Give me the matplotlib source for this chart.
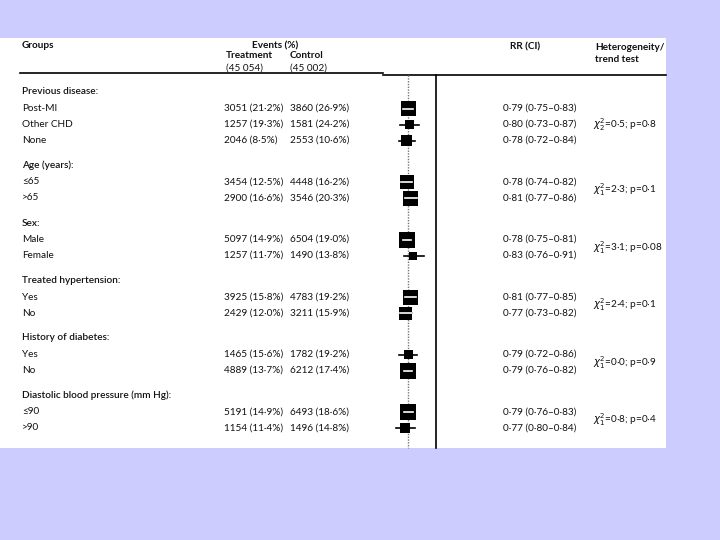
import numpy as np
import matplotlib.pyplot as plt
from matplotlib.patches import Rectangle

plt.rcParams['font.family'] = ['Lato', 'DejaVu Sans']

# subgroup table
groups = ["Previous disease:", "Age (years):", "Sex:", "Treated hypertension:",
          "History of diabetes:", "Diastolic blood pressure (mm Hg):"]
subgroups = [["Post-MI", "Other CHD", "None"], ["≤65", ">65"], ["Male", "Female"],
             ["Yes", "No"], ["Yes", "No"], ["≤90", ">90"]]

treat_n = [3051, 1257, 2046, 3454, 2900, 5097, 1257, 3925, 2429, 1465, 4889, 5191, 1154]
treat_pct = [21.2, 19.3, 8.5, 12.5, 16.6, 14.9, 11.7, 15.8, 12.0, 15.6, 13.7, 14.9, 11.4]
ctrl_n = [3860, 1581, 2553, 4448, 3546, 6504, 1490, 4783, 3211, 1782, 6212, 6493, 1496]
ctrl_pct = [26.9, 24.2, 10.6, 16.2, 20.3, 19.0, 13.8, 19.2, 15.9, 19.2, 17.4, 18.6, 14.8]

# relative risk and CI (as drawn)
rr = [0.79, 0.80, 0.78, 0.78, 0.81, 0.78, 0.83, 0.81, 0.77, 0.79, 0.79, 0.79, 0.77]
ci_lo = [0.75, 0.73, 0.72, 0.74, 0.77, 0.75, 0.76, 0.77, 0.73, 0.72, 0.76, 0.76, 0.70]
ci_hi = [0.83, 0.87, 0.84, 0.82, 0.86, 0.81, 0.91, 0.85, 0.82, 0.86, 0.82, 0.83, 0.84]
weight = [15, 9, 11, 14, 15, 16, 8, 15, 13, 9, 16, 16, 10]  # box side
rr_text = ["0·79 (0·75–0·83)", "0·80 (0·73–0·87)", "0·78 (0·72–0·84)",
           "0·78 (0·74–0·82)", "0·81 (0·77–0·86)",
           "0·78 (0·75–0·81)", "0·83 (0·76–0·91)",
           "0·81 (0·77–0·85)", "0·77 (0·73–0·82)",
           "0·79 (0·72–0·86)", "0·79 (0·76–0·82)",
           "0·79 (0·76–0·83)", "0·77 (0·80–0·84)"]
overall_rr = 0.79

het_df = [2, 1, 1, 1, 1, 1]
het_chi = ["0·5", "2·3", "3·1", "2·4", "0·0", "0·8"]
het_p = ["0·8", "0·1", "0·08", "0·1", "0·9", "0·4"]


def fmt(n, p):
    return f"{n} ({p:.1f}%)".replace('.', '·')


# row layout (pixels)
y0, h_step, r_step, g_step = 92, 16.5, 16, 25
header_y = []
row_y = []
y = y0
for subs in subgroups:
    header_y.append(y)
    y += h_step
    for k in range(len(subs)):
        row_y.append(y)
        if k < len(subs) - 1:
            y += r_step
    y += g_step

fig = plt.figure(figsize=(7.2, 5.4), dpi=100, facecolor='#ccccff')
ax = fig.add_axes([0, 0, 1, 1])
ax.set_xlim(0, 720)
ax.set_ylim(540, 0)
ax.axis('off')
ax.add_patch(Rectangle((0, 38), 666, 410, facecolor='white', edgecolor='none'))

fs = 7.2
tc = '#111111'
# headers
ax.text(22, 46, "Groups", fontsize=fs, fontweight='bold', color=tc, va='center')
ax.text(275, 46, "Events (%)", fontsize=fs, fontweight='bold', color=tc, va='center', ha='center')
ax.text(226, 56, "Treatment", fontsize=fs, fontweight='bold', color=tc, va='center')
ax.text(290, 56, "Control", fontsize=fs, fontweight='bold', color=tc, va='center')
ax.text(226, 68, "(45 054)", fontsize=fs, color=tc, va='center')
ax.text(290, 68, "(45 002)", fontsize=fs, color=tc, va='center')
ax.text(510, 47, "RR (CI)", fontsize=fs, fontweight='bold', color=tc, va='center')
ax.text(595, 47, "Heterogeneity/", fontsize=fs, fontweight='bold', color=tc, va='center')
ax.text(595, 60, "trend test", fontsize=fs, fontweight='bold', color=tc, va='center')
ax.plot([20, 383], [73, 73], color='black', lw=1.2)
ax.plot([383, 666], [75, 75], color='black', lw=1.2)

i = 0
for g, subs in enumerate(subgroups):
    ax.text(22, header_y[g], groups[g], fontsize=fs, fontweight='semibold', color=tc, va='center')
    ys = []
    for s in subs:
        ax.text(22, row_y[i], s, fontsize=fs, color=tc, va='center')
        ax.text(224, row_y[i], fmt(treat_n[i], treat_pct[i]), fontsize=fs, color=tc, va='center')
        ax.text(290, row_y[i], fmt(ctrl_n[i], ctrl_pct[i]), fontsize=fs, color=tc, va='center')
        ax.text(503, row_y[i], rr_text[i], fontsize=fs, color=tc, va='center')
        ys.append(row_y[i])
        i += 1
    ax.text(593, np.mean(ys), r"$\chi^2_{%d}$=%s; p=%s" % (het_df[g], het_chi[g], het_p[g]),
            fontsize=fs, color=tc, va='center')

# forest panel
px_per_rr = 133.3
fx0, fx1 = 380, 440
fa = fig.add_axes([fx0 / 720, 0, (fx1 - fx0) / 720, 1])
fa.set_xlim(overall_rr + (fx0 - 408) / px_per_rr, overall_rr + (fx1 - 408) / px_per_rr)
fa.set_ylim(540, 0)
fa.axis('off')
fa.patch.set_alpha(0)
fa.plot([overall_rr, overall_rr], [75, 448], color='#777777', lw=1, ls=(0, (1, 1)))
fa.plot([1.0, 1.0], [75, 448], color='black', lw=1.2)
for k in range(len(rr)):
    fa.plot([ci_lo[k], ci_hi[k]], [row_y[k], row_y[k]], color='black', lw=1.2, zorder=2)
    w = weight[k] / px_per_rr
    box = Rectangle((rr[k] - w / 2, row_y[k] - weight[k] / 2), w, weight[k],
                    facecolor='black', edgecolor='none', zorder=3)
    fa.add_patch(box)
    # CI shown in white only when it fits inside the box
    if ci_hi[k] - ci_lo[k] < w:
        fa.plot([ci_lo[k], ci_hi[k]], [row_y[k], row_y[k]], color='white', lw=1.2, zorder=4)

fig.savefig('out.png', dpi=100, facecolor=fig.get_facecolor())
